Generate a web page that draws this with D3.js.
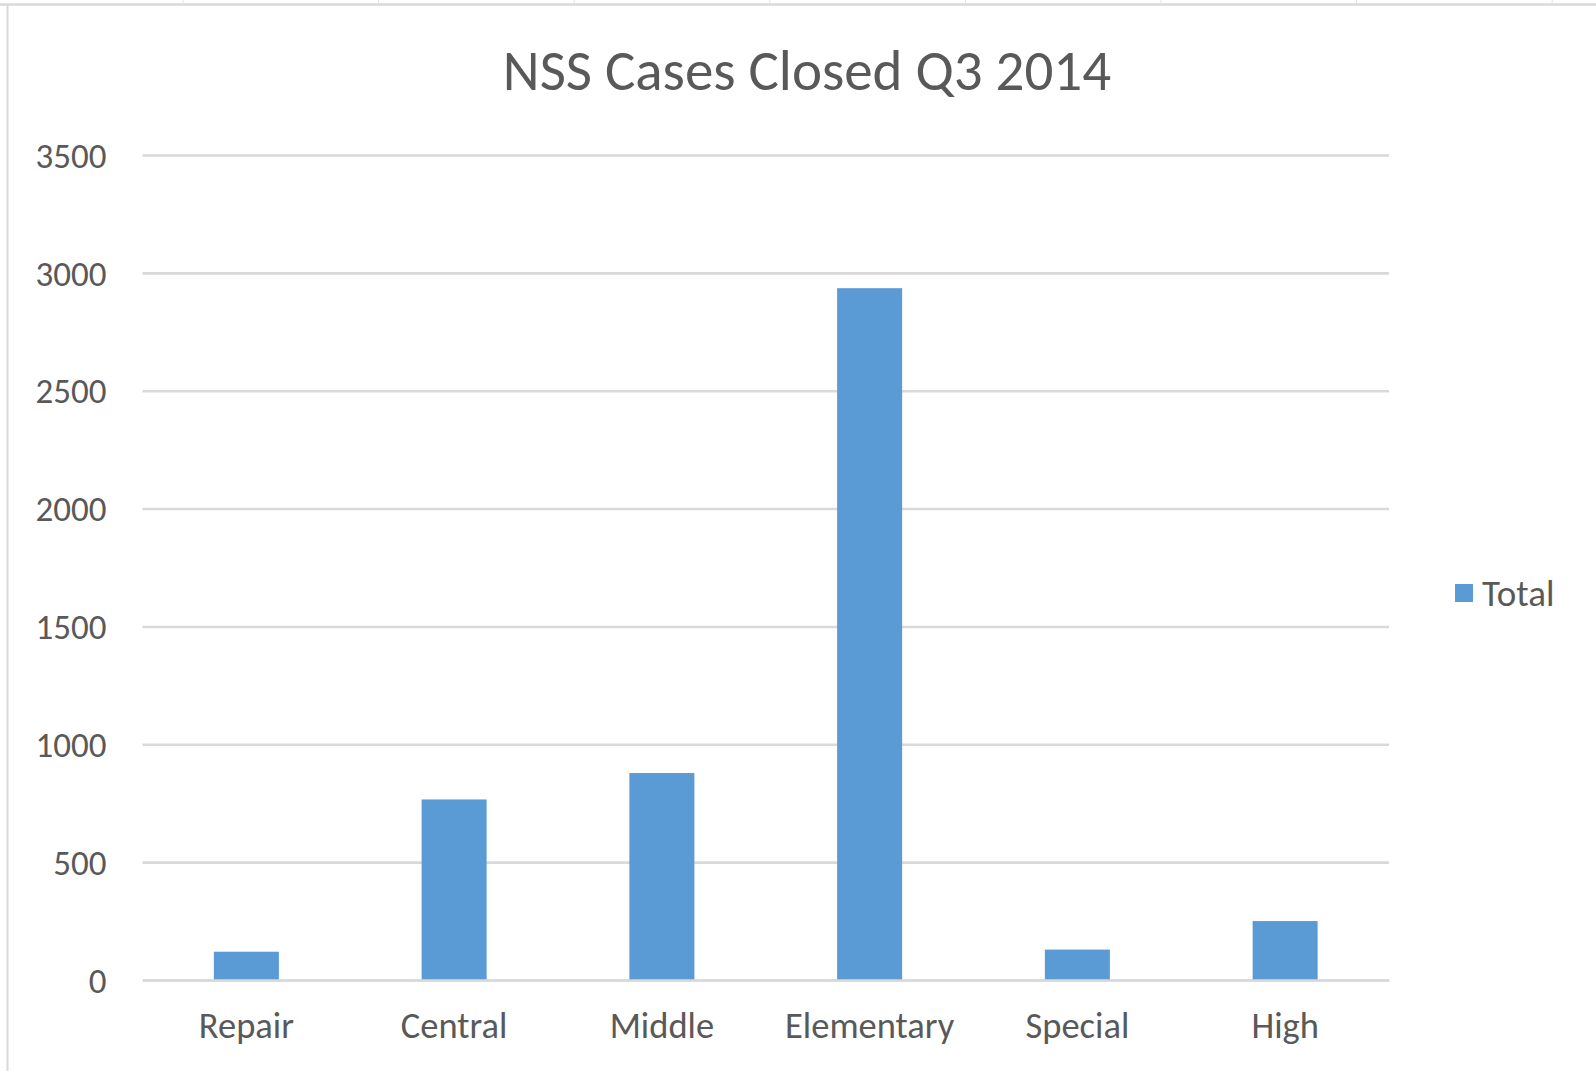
<!DOCTYPE html>
<html lang="en">
<head>
    <meta charset="UTF-8">
    <title>NSS Cases Closed Q3 2014</title>
    <style>
        body {
            margin: 0;
            background-color: #ffffff;
        }
        svg {
            display: block;
        }
        svg text, .axis {
            font-family: Carlito, Calibri, Lato, 'Open Sans', sans-serif;
        }
        .axis text {
            fill: #595959;
        }
    </style>
    <script src="https://d3js.org/d3.v7.min.js"></script>
</head>
<body>
<svg id="chart" width="1596" height="1071"></svg>
<script>
    // Chart data
    const categories = ["Repair", "Central", "Middle", "Elementary", "Special", "High"];
    const totals = [120, 766, 878, 2935, 129, 250];
    const yTicks = [0, 500, 1000, 1500, 2000, 2500, 3000, 3500];
    const seriesName = "Total";
    const title = "NSS Cases Closed Q3 2014";

    const svg = d3.select("#chart"),
        width = +svg.attr("width"),
        height = +svg.attr("height");

    const plot = {left: 142.5, right: 1389, top: 155, bottom: 980};
    const barColor = "#5b9bd5";
    const gridColor = "#d9d9d9";
    const textColor = "#595959";
    const fontStack = "Carlito, Calibri, Lato, 'Open Sans', sans-serif";

    // Frame of the chart area (light border at top and left)
    svg.append("line")
        .attr("x1", 0).attr("x2", width)
        .attr("y1", 4.5).attr("y2", 4.5)
        .attr("stroke", gridColor).attr("stroke-width", 2.5);
    svg.append("line")
        .attr("x1", 7.5).attr("x2", 7.5)
        .attr("y1", 4.5).attr("y2", height)
        .attr("stroke", gridColor).attr("stroke-width", 2);
    // little sheet column separators peeking above the frame
    d3.range(183, width, 195.6).forEach(x => {
        svg.append("line")
            .attr("x1", x).attr("x2", x)
            .attr("y1", 0).attr("y2", 4)
            .attr("stroke", "#e3e3e3").attr("stroke-width", 1);
    });

    const x = d3.scaleBand()
        .domain(categories)
        .range([plot.left, plot.right])
        .paddingInner(0.687)
        .paddingOuter(0.3435);

    const y = d3.scaleLinear()
        .domain([0, 3500])
        .range([plot.bottom, plot.top]);

    // Horizontal gridlines + y labels
    const yAxis = svg.append("g")
        .attr("class", "axis")
        .attr("transform", `translate(${plot.left},0)`)
        .call(d3.axisLeft(y)
            .tickValues(yTicks)
            .tickSize(-(plot.right - plot.left))
            .tickPadding(36)
            .tickFormat(d3.format("d")));
    yAxis.attr("font-family", fontStack);
    yAxis.select(".domain").remove();
    yAxis.selectAll(".tick line")
        .attr("stroke", gridColor)
        .attr("stroke-width", 2.6);
    yAxis.selectAll(".tick text")
        .attr("font-size", 35)
        .attr("dy", "0.35em");

    // Bars
    svg.append("g")
        .selectAll("rect")
        .data(totals)
        .enter().append("rect")
        .attr("x", (d, i) => x(categories[i]))
        .attr("y", d => y(d))
        .attr("width", x.bandwidth())
        .attr("height", d => y(0) - y(d))
        .attr("fill", barColor);

    // Category axis
    const xAxis = svg.append("g")
        .attr("class", "axis")
        .attr("transform", `translate(0,${plot.bottom})`)
        .call(d3.axisBottom(x).tickSize(0).tickPadding(32));
    xAxis.attr("font-family", fontStack);
    xAxis.select(".domain")
        .attr("stroke", gridColor)
        .attr("stroke-width", 2.6);
    xAxis.selectAll(".tick text")
        .attr("font-size", 36.5)
        .attr("dy", "0.71em");

    // Title
    svg.append("text")
        .attr("x", 807)
        .attr("y", 90)
        .attr("text-anchor", "middle")
        .attr("font-size", 57)
        .attr("fill", textColor)
        .text(title);

    // Legend
    const legend = svg.append("g")
        .attr("transform", "translate(1455,584)");
    legend.append("rect")
        .attr("width", 18)
        .attr("height", 18)
        .attr("fill", barColor);
    legend.append("text")
        .attr("x", 27)
        .attr("y", 9)
        .attr("dy", "0.35em")
        .attr("font-size", 37)
        .attr("fill", textColor)
        .text(seriesName);
</script>
</body>
</html>
